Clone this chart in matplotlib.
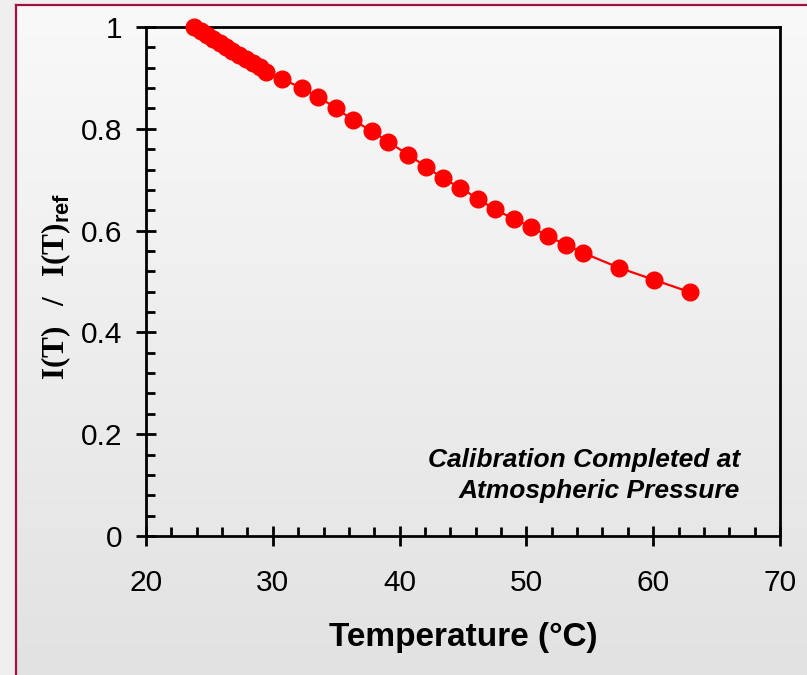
import matplotlib
matplotlib.use('Agg')
import matplotlib.pyplot as plt
import numpy as np
from matplotlib.ticker import MultipleLocator
from matplotlib.colors import LinearSegmentedColormap

# ---- data ----
temperature = [23.8, 24.3, 24.8, 25.3, 25.8, 26.3, 26.8, 27.3, 27.9, 28.4, 29.0, 29.5,
               30.7, 32.3, 33.6, 35.0, 36.3, 37.8, 39.1, 40.7, 42.1, 43.4, 44.8,
               46.2, 47.5, 49.0, 50.4, 51.7, 53.1, 54.5, 57.3, 60.1, 62.9]
intensity_ratio = [1.000, 0.992, 0.984, 0.976, 0.969, 0.961, 0.953, 0.945, 0.937, 0.929, 0.921, 0.912,
                   0.898, 0.880, 0.862, 0.841, 0.817, 0.796, 0.774, 0.749, 0.725, 0.703, 0.684,
                   0.662, 0.642, 0.623, 0.607, 0.589, 0.572, 0.556, 0.527, 0.503, 0.479]
x_ticks = [20, 30, 40, 50, 60, 70]
y_ticks = [0, 0.2, 0.4, 0.6, 0.8, 1.0]
y_tick_labels = ['0', '0.2', '0.4', '0.6', '0.8', '1']
x_label = 'Temperature (°C)'
y_label = r'$\mathbf{I(T)}\ \ \mathbf{/}\ \ \mathbf{I(T)}_{\mathsf{ref}}$'
note = 'Calibration Completed at\nAtmospheric Pressure'

plt.rcParams['font.family'] = ['Liberation Sans', 'DejaVu Sans']
plt.rcParams['mathtext.fontset'] = 'custom'
plt.rcParams['mathtext.rm'] = 'Liberation Serif'
plt.rcParams['mathtext.bf'] = 'Liberation Serif:bold'
plt.rcParams['mathtext.sf'] = 'Liberation Sans:bold'

W, H = 807, 675
fig = plt.figure(figsize=(W / 100, H / 100), dpi=100)
fig.patch.set_facecolor('#efefef')

# background gradient panel with maroon border
bg = fig.add_axes([0, 0, 1, 1], zorder=-10)
grad = np.linspace(0, 1, 256).reshape(-1, 1)
cmap = LinearSegmentedColormap.from_list('g', ['#f9f9f9', '#e2e2e2'])
bg.imshow(grad, cmap=cmap, extent=[16, W, H, 5], aspect='auto', origin='upper')
bg.plot([16, 16], [5, H], color='#a0123f', lw=1.6)
bg.plot([16, W], [5, 5], color='#a0123f', lw=1.6)
bg.set_xlim(0, W)
bg.set_ylim(H, 0)
bg.axis('off')

ax = fig.add_axes([146 / W, 1 - 536 / H, (780 - 146) / W, (536 - 27) / H])
ax.set_facecolor('none')
ax.plot(temperature, intensity_ratio, color='#ff0000', lw=1.6, marker='o', ms=12,
        markeredgecolor='#ff0000', clip_on=False, zorder=5)
ax.set_xlim(20, 70)
ax.set_ylim(0, 1)
ax.set_xticks(x_ticks)
ax.set_yticks(y_ticks)
ax.set_yticklabels(y_tick_labels)
ax.xaxis.set_minor_locator(MultipleLocator(2))
ax.yaxis.set_minor_locator(MultipleLocator(0.04))
ax.tick_params(which='major', direction='inout', length=14, width=2, labelsize=21.5,
               top=False, right=False)
ax.tick_params(axis='x', which='major', pad=17)
ax.tick_params(axis='y', which='major', pad=10)
ax.tick_params(which='minor', direction='in', length=6.5, width=2, top=False, right=False)
for s in ax.spines.values():
    s.set_linewidth(2)
    s.set_zorder(3)

ax.set_xlabel(x_label, fontsize=24, fontweight='bold', labelpad=18)
ax.set_ylabel(y_label, fontsize=22.5, labelpad=6)
ax.yaxis.label.set_y(0.49)

ax.text(0.937, 0.065, note, transform=ax.transAxes, ha='right', va='bottom',
        fontsize=19, fontweight='bold', fontstyle='italic', linespacing=1.35)

fig.savefig('out.png', dpi=100, facecolor=fig.get_facecolor())
